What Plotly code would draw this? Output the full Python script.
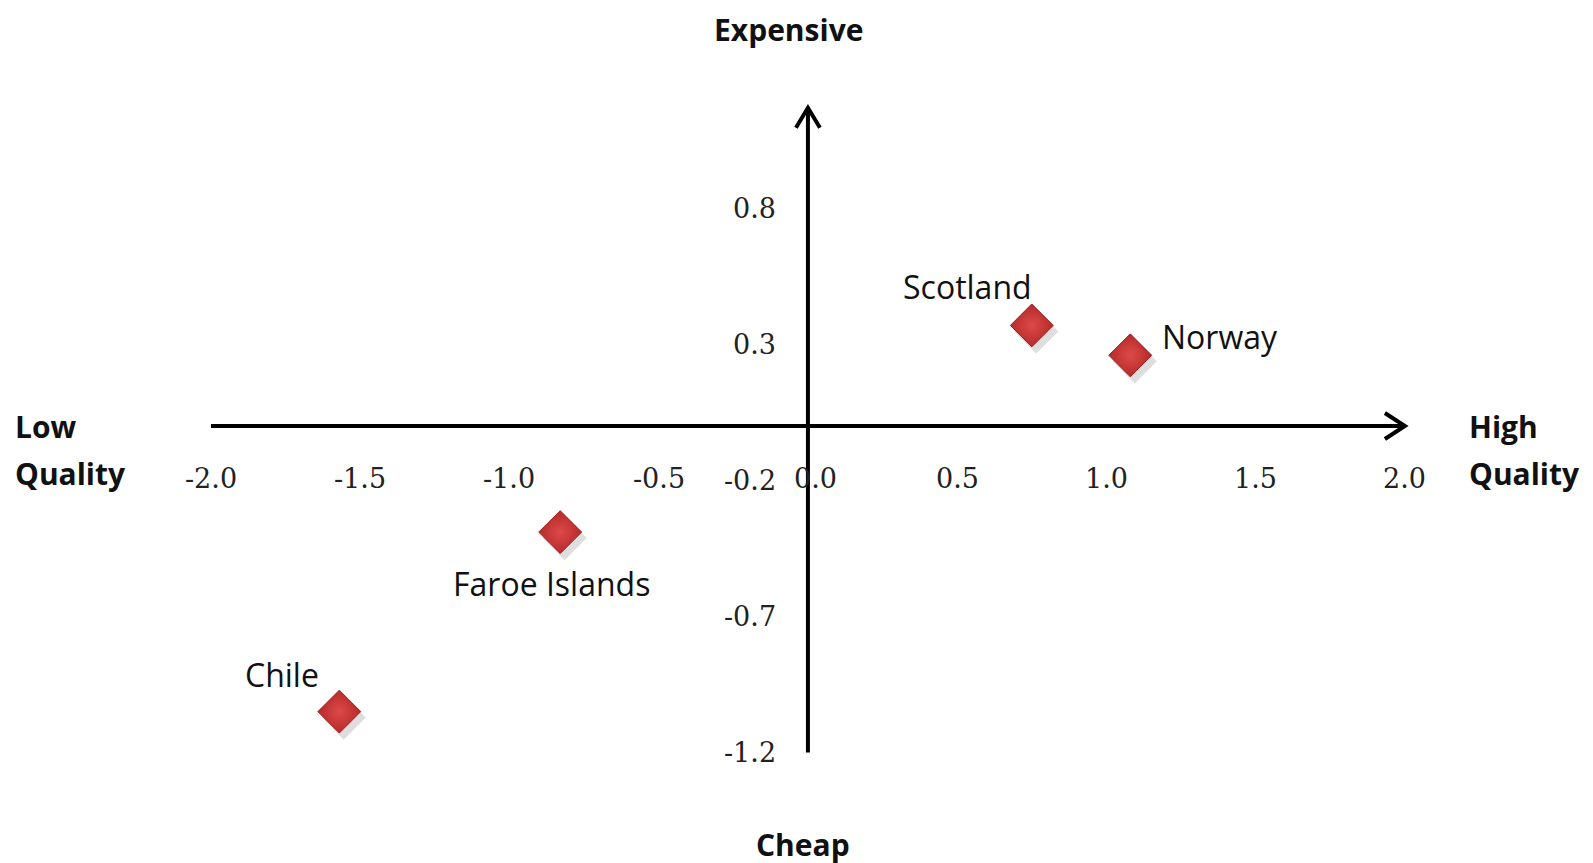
import plotly.graph_objects as go

countries = ["Scotland", "Norway", "Faroe Islands", "Chile"]
quality = [0.75, 1.08, -0.83, -1.57]
price = [0.37, 0.26, -0.39, -1.05]

x_ticks = [-2.0, -1.5, -1.0, -0.5, 0.0, 0.5, 1.0, 1.5, 2.0]
y_ticks = [0.8, 0.3, -0.2, -0.7, -1.2]

TICK_FONT = dict(family="DejaVu Serif", size=27, color="#222222")
LABEL_FONT = dict(family="Open Sans", size=32, color="#111111")
BOLD_FONT = dict(family="Open Sans", size=30, color="#111111", weight="bold")
AXIS_COLOR = "#000000"

# label offsets (px) relative to each marker
label_pos = {
    "Scotland": dict(xshift=-64, yshift=39),
    "Norway": dict(xanchor="left", xshift=30, yshift=19),
    "Faroe Islands": dict(xshift=-9, yshift=-51),
    "Chile": dict(xshift=-57, yshift=37),
}

fig = go.Figure()

# soft shadow under the diamonds
fig.add_trace(
    go.Scatter(
        x=[q + 0.015 for q in quality],
        y=[p - 0.022 for p in price],
        mode="markers",
        marker=dict(symbol="diamond", size=34, color="rgba(0,0,0,0.13)", line=dict(width=0)),
        hoverinfo="skip",
        showlegend=False,
    )
)
fig.add_trace(
    go.Scatter(
        x=quality,
        y=price,
        mode="markers",
        marker=dict(
            symbol="diamond",
            size=33,
            color="#b52a2a",
            gradient=dict(type="radial", color="#dd4a48"),
            line=dict(color="#9a1f1f", width=1),
        ),
        text=countries,
        hovertemplate="<b>%{text}</b><br>Quality: %{x}<br>Price: %{y}<extra></extra>",
        showlegend=False,
    )
)

shapes = [
    dict(type="line", xref="x", yref="y", x0=x_ticks[0], x1=x_ticks[-1], y0=0, y1=0,
         line=dict(color=AXIS_COLOR, width=4)),
    dict(type="line", xref="x", yref="y", x0=0, x1=0, y0=y_ticks[-1], y1=1.17,
         line=dict(color=AXIS_COLOR, width=4)),
    # open arrow heads
    dict(type="path", xref="x", yref="y", xsizemode="pixel", ysizemode="pixel",
         xanchor=x_ticks[-1], yanchor=0, path="M -20,13 L 0,0 L -20,-13",
         line=dict(color=AXIS_COLOR, width=4)),
    dict(type="path", xref="x", yref="y", xsizemode="pixel", ysizemode="pixel",
         xanchor=0, yanchor=1.17, path="M -12,-20 L 0,0 L 12,-20",
         line=dict(color=AXIS_COLOR, width=4)),
]

annotations = []
for t in x_ticks:
    annotations.append(dict(x=t, y=0, xref="x", yref="y", text=f"{t:.1f}", showarrow=False,
                            yshift=-52, xshift=8 if t == 0 else 0, font=TICK_FONT))
for t in y_ticks:
    annotations.append(dict(x=0, y=t, xref="x", yref="y", text=f"{t:.1f}", showarrow=False,
                            xanchor="right", xshift=-30, font=TICK_FONT))
for name, q, p in zip(countries, quality, price):
    annotations.append(dict(x=q, y=p, xref="x", yref="y", text=name, showarrow=False,
                            font=LABEL_FONT, **label_pos[name]))

corner = [
    ("Expensive", 0.490, 1.0, "center", "top"),
    ("Cheap", 0.499, 0.031, "center", "middle"),
    ("Low", 0.004, 0.515, "left", "middle"),
    ("Quality", 0.004, 0.461, "left", "middle"),
    ("High", 0.9165, 0.515, "left", "middle"),
    ("Quality", 0.9165, 0.461, "left", "middle"),
]
for text, px, py, xa, ya in corner:
    annotations.append(dict(x=px, y=py, xref="paper", yref="paper", text=text, showarrow=False,
                            xanchor=xa, yanchor=ya, borderpad=0, font=BOLD_FONT))

fig.update_layout(
    width=1593,
    height=863,
    paper_bgcolor="white",
    plot_bgcolor="white",
    margin=dict(l=0, r=0, t=0, b=0),
    xaxis=dict(range=[-2.680, 2.657], visible=False),
    yaxis=dict(range=[-1.636, 1.537], visible=False),
    shapes=shapes,
    annotations=annotations,
)

fig.write_html("out.html")
